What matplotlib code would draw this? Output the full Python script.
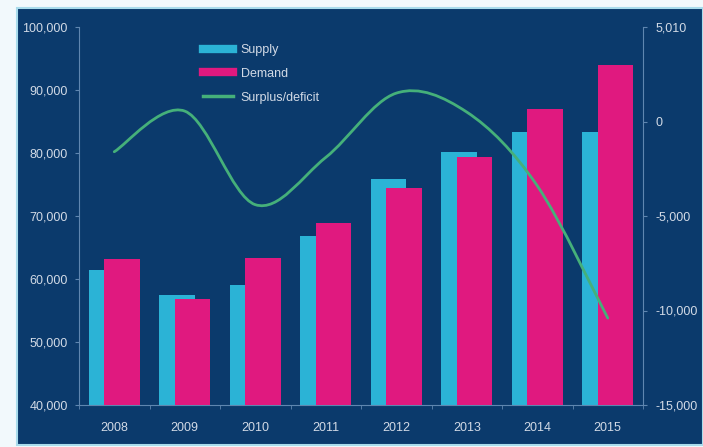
import matplotlib
matplotlib.use('Agg')
import matplotlib.pyplot as plt
from matplotlib.patches import Rectangle
from matplotlib.path import Path
from matplotlib.patches import PathPatch
from matplotlib.lines import Line2D
import numpy as np

years = ['2008', '2009', '2010', '2011', '2012', '2013', '2014', '2015']
supply = [61500, 57400, 59000, 66800, 75800, 80150, 83300, 83300]
demand = [63100, 56800, 63300, 68900, 74400, 79350, 87000, 94000]
surplus = [-1600, 550, -4400, -1900, 1500, 500, -3400, -10400]

left_ticks = [40000, 50000, 60000, 70000, 80000, 90000, 100000]
left_labels = ['40,000', '50,000', '60,000', '70,000', '80,000', '90,000', '100,000']
right_ticks = [-15000, -10000, -5000, 0, 5000]
right_labels = ['-15,000', '-10,000', '-5,000', '0', '5,010']

navy = '#0b3a6c'
cyan = '#2bb3d6'
magenta = '#e0197f'
green = '#45b07a'
txt = '#d2dae6'
spine = '#5f86b0'

plt.rcParams['font.family'] = ['Liberation Sans', 'DejaVu Sans']

fig = plt.figure(figsize=(7.03, 4.47), dpi=100)
fig.patch.set_facecolor('#f2f9fc')
fig.patches.append(Rectangle((17 / 703, 2 / 447), 1 - 17 / 703, 1 - 10 / 447,
                             transform=fig.transFigure, facecolor=navy,
                             edgecolor='#a9dcec', lw=1.5, zorder=-10))

ax = fig.add_axes([79 / 703, 42 / 447, 564 / 703, 378 / 447])
ax.set_facecolor('none')
x = np.arange(len(years))
w = 0.5
ax.bar(x - 0.11, supply, w, color=cyan, zorder=2)
ax.bar(x + 0.11, demand, w, color=magenta, zorder=3)
ax.set_xlim(-0.5, len(years) - 0.5)
ax.set_ylim(40000, 100000)
ax.set_yticks(left_ticks)
ax.set_yticklabels(left_labels)
ax.set_xticks(x)
ax.set_xticklabels(years)
ax.set_xticks(np.arange(len(years) + 1) - 0.5, minor=True)
ax.tick_params(axis='x', which='major', length=0, pad=12, colors=txt, labelsize=9)
ax.tick_params(axis='x', which='minor', length=3, color=spine)
ax.tick_params(axis='y', length=3, color=spine, colors=txt, labelsize=9, pad=5)
for s in ['top', 'right']:
    ax.spines[s].set_visible(False)
for s in ['left', 'bottom']:
    ax.spines[s].set_color(spine)
    ax.spines[s].set_linewidth(0.8)

ax2 = ax.twinx()
ax2.set_ylim(-15000, 5000)
ax2.set_yticks(right_ticks)
ax2.set_yticklabels(right_labels)
ax2.tick_params(axis='y', length=3, color=spine, colors=txt, labelsize=9, pad=6)
for s in ['top', 'left', 'bottom']:
    ax2.spines[s].set_visible(False)
ax2.spines['right'].set_color(spine)
ax2.spines['right'].set_linewidth(0.8)

# smoothed line (Catmull-Rom drawn as cubic Bezier segments)
pts = np.column_stack([x, surplus]).astype(float)
verts = [pts[0]]
codes = [Path.MOVETO]
for i in range(len(pts) - 1):
    p0 = pts[i - 1] if i > 0 else pts[i]
    p3 = pts[i + 2] if i + 2 < len(pts) else pts[i + 1]
    c1 = pts[i] + (pts[i + 1] - p0) / 6
    c2 = pts[i + 1] - (p3 - pts[i]) / 6
    verts += [c1, c2, pts[i + 1]]
    codes += [Path.CURVE4] * 3
ax2.add_patch(PathPatch(Path(verts, codes), facecolor='none', edgecolor=green,
                        lw=2, zorder=4, capstyle='round'))

handles = [Line2D([], [], color=cyan, lw=6),
           Line2D([], [], color=magenta, lw=6),
           Line2D([], [], color=green, lw=2.5)]
leg = ax2.legend(handles, ['Supply', 'Demand', 'Surplus/deficit'],
                 loc='upper left', bbox_to_anchor=(0.2, 0.985), frameon=False,
                 fontsize=9, handlelength=2.4, labelspacing=0.95, handletextpad=0.6)
for t in leg.get_texts():
    t.set_color(txt)

fig.savefig('out.png', dpi=100, facecolor=fig.get_facecolor())
